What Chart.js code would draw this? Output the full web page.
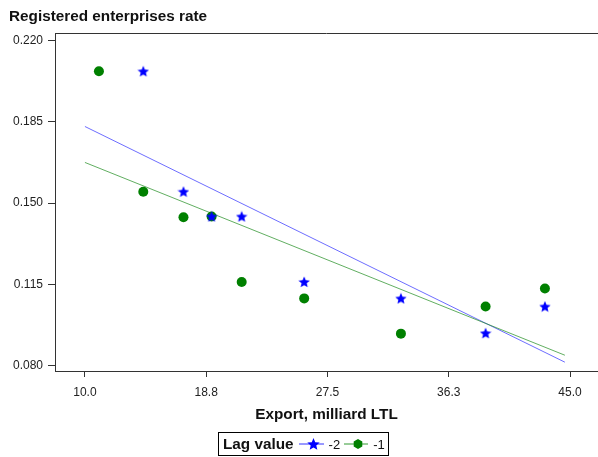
<!DOCTYPE html>
<html>
<head>
<meta charset="utf-8">
<script src="https://cdn.jsdelivr.net/npm/chart.js@4"></script>
<style>
  html, body { margin: 0; padding: 0; background: #fff; }
  #wrap { position: relative; width: 598px; height: 457px; font-family: "Liberation Sans", Arial, sans-serif; overflow: hidden; }
  #chart { position: absolute; left: 0; top: 0; }
  #title { position: absolute; left: 9px; top: 7px; font-weight: bold; font-size: 15.3px; color: #111; white-space: nowrap; }
  #xtitle { position: absolute; left: 0; width: 653px; top: 405px; text-align: center; font-weight: bold; font-size: 15.3px; color: #111; white-space: nowrap; }
  #legend { position: absolute; left: 218px; top: 432px; width: 171px; height: 24px; box-sizing: border-box;
            border: 1px solid #000; display: flex; align-items: center; padding-left: 4px; font-size: 13px; color: #111; }
  #legend b { font-size: 15.3px; }
  #legend svg { display: block; margin-left: 5px; }
  #legend span { margin-left: 5px; }
</style>
</head>
<body>
<div id="wrap">
  <canvas id="chart" width="598" height="457"></canvas>
  <div id="title">Registered enterprises rate</div>
  <div id="xtitle">Export, milliard LTL</div>
  <div id="legend">
    <b>Lag value</b>
    <svg width="25" height="14"><line x1="0" y1="7" x2="25" y2="7" stroke="#3333ff" stroke-width="1"/>
      <polygon id="lstar" fill="#0000ff"/></svg>
    <span>-2</span>
    <svg width="24" height="14" style="margin-left:4px"><line x1="0" y1="7" x2="24" y2="7" stroke="#339933" stroke-width="1"/>
      <polygon points="14,2 18.3,4.5 18.3,9.5 14,12 9.7,9.5 9.7,4.5" fill="#008000"/></svg>
    <span>-1</span>
  </div>
</div>
<script>
const xTicks = [10, 18.75, 27.5, 36.25, 45];
const yTicks = [0.080, 0.115, 0.150, 0.185, 0.220];

// lag -2 (blue stars)
const lag2Export = [14.21, 17.11, 19.14, 21.31, 25.82, 32.80, 38.91, 43.19];
const lag2Rate = [0.2068, 0.1549, 0.1442, 0.1442, 0.1160, 0.1089, 0.0939, 0.1054];
// lag -1 (green dots)
const lag1Export = [11.01, 14.21, 17.11, 19.14, 21.31, 25.82, 32.80, 38.91, 43.19];
const lag1Rate = [0.2068, 0.1549, 0.1439, 0.1442, 0.1160, 0.1089, 0.0937, 0.1054, 0.1132];
// fitted lines, end points
const fitExport = [10.0, 44.63];
const fitLag2 = [0.1830, 0.0814];
const fitLag1 = [0.1675, 0.0844];

const BLUE = '#0000ff', GREEN = '#008000';
const TICK_FONT = { family: '"Liberation Sans", Arial, sans-serif', size: 12 };

function starPoints(cx, cy, r) {
    const pts = [];
    for (let i = 0; i < 10; i++) {
        const a = -Math.PI / 2 + i * Math.PI / 5;
        const rr = i % 2 ? r * 0.45 : r;
        pts.push([cx + rr * Math.cos(a), cy + rr * Math.sin(a)]);
    }
    return pts;
}

function starImg(size, color) {
    const c = document.createElement('canvas');
    c.width = c.height = size;
    const ctx = c.getContext('2d');
    ctx.fillStyle = color;
    ctx.beginPath();
    starPoints(size / 2, size / 2 + 0.5, size / 2).forEach(([x, y], i) => i ? ctx.lineTo(x, y) : ctx.moveTo(x, y));
    ctx.closePath();
    ctx.fill();
    return c;
}

document.getElementById('lstar').setAttribute('points',
    starPoints(14.5, 7.5, 6.5).map(p => p.join(',')).join(' '));

const toXY = (xs, ys) => xs.map((x, i) => ({ x, y: ys[i] }));

const topBorder = {
    id: 'topBorder',
    afterDraw(chart) {
        const { ctx, chartArea: a } = chart;
        ctx.save();
        ctx.strokeStyle = '#333';
        ctx.lineWidth = 1;
        ctx.beginPath();
        ctx.moveTo(a.left, Math.round(a.top) + 0.5);
        ctx.lineTo(a.right, Math.round(a.top) + 0.5);
        ctx.stroke();
        ctx.restore();
    }
};

new Chart(document.getElementById('chart'), {
    type: 'scatter',
    data: {
        datasets: [
            { data: toXY(fitExport, fitLag2), showLine: true, pointRadius: 0, borderColor: 'rgba(60,60,255,0.75)', borderWidth: 1, order: 3 },
            { data: toXY(fitExport, fitLag1), showLine: true, pointRadius: 0, borderColor: 'rgba(30,140,30,0.7)', borderWidth: 1, order: 2 },
            { data: toXY(lag1Export, lag1Rate), pointStyle: 'circle', pointRadius: 5, backgroundColor: GREEN, borderColor: GREEN, borderWidth: 0, order: 1 },
            { data: toXY(lag2Export, lag2Rate), pointStyle: starImg(12, BLUE), pointRadius: 6, order: 0 }
        ]
    },
    options: {
        responsive: false,
        animation: false,
        events: [],
        layout: { autoPadding: false, padding: { top: 33, right: 0, left: 0, bottom: 0 } },
        plugins: { legend: { display: false }, tooltip: { enabled: false } },
        scales: {
            x: {
                type: 'linear', min: 7.84, max: 47.02,
                afterBuildTicks: s => { s.ticks = xTicks.map(v => ({ value: v })); },
                afterFit: s => { s.height = 86; s.paddingLeft = 0; s.paddingRight = 0; },
                ticks: { font: TICK_FONT, color: '#222', padding: 8, maxRotation: 0, callback: v => v.toFixed(1) },
                grid: { display: true, drawOnChartArea: false, tickLength: 6, color: '#333' },
                border: { display: true, color: '#333', width: 1 }
            },
            y: {
                type: 'linear', min: 0.0776, max: 0.2233,
                afterBuildTicks: s => { s.ticks = yTicks.map(v => ({ value: v })); },
                afterFit: s => { s.width = 55; },
                ticks: { font: TICK_FONT, color: '#222', padding: 5, callback: v => v.toFixed(3) },
                grid: { display: true, drawOnChartArea: false, tickLength: 7, color: '#333' },
                border: { display: true, color: '#333', width: 1 }
            }
        }
    },
    plugins: [topBorder]
});
</script>
</body>
</html>
